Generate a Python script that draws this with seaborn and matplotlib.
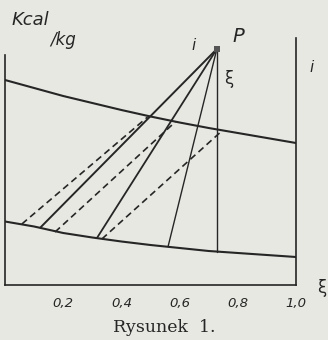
import numpy as np
import pandas as pd
import matplotlib
matplotlib.use("Agg")
import matplotlib.pyplot as plt
import seaborn as sns

# enthalpy (arbitrary units) vs concentration xi
xi_grid = [0.0, 0.1, 0.2, 0.3, 0.4, 0.5, 0.6, 0.7, 0.8, 0.9, 1.0]
i_vapour = [205, 197, 189, 182, 175, 168.5, 162.5, 157, 152, 147, 142]
i_liquid = [63.5, 58.5, 52, 47.5, 43.5, 40, 37, 34, 32, 30, 28]

# pole P
p_xi = 0.728
p_i = 236

# solid lines from P down to the liquid curve
solid_xi = [0.12, 0.316, 0.56]
solid_i = [57, 47, 38]
# vertical from P
vert_i = 33

# dashed tie lines: liquid point -> vapour point
tie_lo_xi = [0.058, 0.172, 0.333]
tie_lo_i = [61, 53, 46]
tie_hi_xi = [0.49, 0.585, 0.745]
tie_hi_i = [168, 163, 154]

tick_pos = [0.2, 0.4, 0.6, 0.8, 1.0]
tick_lab = ["0,2", "0,4", "0,6", "0,8", "1,0"]

bg = "#e8e8e3"
ink = "#262626"

sns.set_theme(style="white")
plt.rcParams['font.family'] = ['DejaVu Sans']

fig = plt.figure(figsize=(3.28, 3.40), dpi=100, facecolor=bg)
ax = fig.add_axes([5 / 328, 55 / 340, 291 / 328, 265 / 340])
ax.set_facecolor(bg)
ax.set_xlim(0, 1)
ax.set_ylim(0, 265)

curves = pd.DataFrame({"xi": xi_grid, "vap": i_vapour, "liq": i_liquid})
sns.lineplot(data=curves, x="xi", y="vap", ax=ax, color=ink, lw=1.5)
sns.lineplot(data=curves, x="xi", y="liq", ax=ax, color=ink, lw=1.5)

# lines from the pole
widths = [1.4, 1.3, 1.0]
for k in range(len(solid_xi)):
    ax.plot([p_xi, solid_xi[k]], [p_i, solid_i[k]], color=ink, lw=widths[k],
            solid_capstyle="butt")
ax.plot([p_xi, p_xi], [p_i, vert_i], color=ink, lw=1.0)

for k in range(len(tie_lo_xi)):
    ax.plot([tie_lo_xi[k], tie_hi_xi[k]], [tie_lo_i[k], tie_hi_i[k]],
            color=ink, lw=1.2, dashes=(4, 2.5))

ax.scatter([p_xi], [p_i], s=14, marker="s", color="#555555", zorder=5,
           linewidths=0)

# axes
ax.spines["top"].set_visible(False)
for s in ["left", "right", "bottom"]:
    ax.spines[s].set_color(ink)
    ax.spines[s].set_linewidth(1.2)
ax.spines["left"].set_bounds(0, 230)
ax.spines["right"].set_bounds(0, 247)

ax.set_yticks([])
ax.set_xticks(tick_pos)
ax.set_xticklabels(tick_lab, fontstyle="italic", fontsize=9.5, color=ink)
ax.tick_params(axis="x", direction="in", length=4, width=1, color=ink, pad=9)
ax.set_xlabel("")
ax.set_ylabel("")

# labels
fig.text(12 / 328, 1 - 20 / 340, "Kcal", fontsize=13, fontstyle="italic",
         color=ink, va="center", ha="left")
fig.text(50 / 328, 1 - 40 / 340, "/kg", fontsize=12, fontstyle="italic",
         color=ink, va="center", ha="left")
fig.text(194 / 328, 1 - 45 / 340, "i", fontsize=11, fontstyle="italic",
         color=ink, va="center", ha="center")
fig.text(238 / 328, 1 - 36 / 340, "P", fontsize=14, fontstyle="italic",
         color=ink, va="center", ha="center")
fig.text(229 / 328, 1 - 79 / 340, "ξ", fontsize=12, color=ink,
         va="center", ha="center")
fig.text(312 / 328, 1 - 67 / 340, "i", fontsize=11, fontstyle="italic",
         color=ink, va="center", ha="center")
fig.text(322 / 328, 1 - 288 / 340, "ξ", fontsize=12, color=ink,
         va="center", ha="center")
fig.text(164 / 328, 1 - 328 / 340, "Rysunek  1.", fontsize=12.5,
         family="DejaVu Serif", color=ink, va="center", ha="center")

fig.savefig("out.png", dpi=100, facecolor=bg)
